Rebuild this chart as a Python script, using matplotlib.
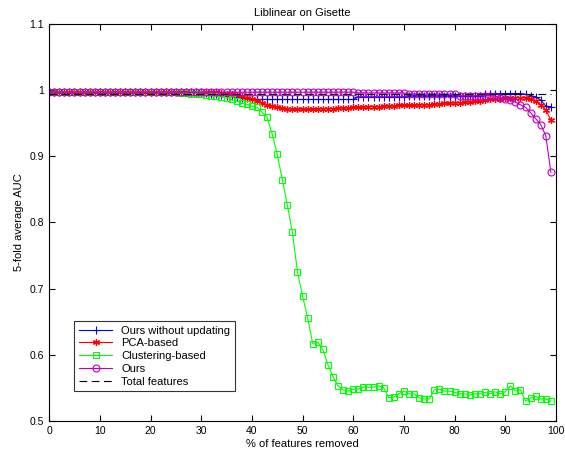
import matplotlib
matplotlib.use('Agg')
import matplotlib.pyplot as plt

plt.rcParams['font.family'] = ['Liberation Sans', 'DejaVu Sans']

removed = list(range(100))

# Ours without updating
no_update = [0.997, 0.997, 0.997, 0.997, 0.997, 0.997, 0.997, 0.997, 0.997, 0.997,
             0.997, 0.997, 0.997, 0.997, 0.997, 0.997, 0.997, 0.997, 0.997, 0.997,
             0.997, 0.997, 0.997, 0.997, 0.997, 0.997, 0.997, 0.997, 0.997, 0.997,
             0.997, 0.996, 0.995, 0.994, 0.993, 0.992, 0.991, 0.990, 0.989, 0.988,
             0.987, 0.986, 0.986, 0.986, 0.986, 0.986, 0.986, 0.986, 0.986, 0.986,
             0.986, 0.986, 0.986, 0.986, 0.986, 0.986, 0.986, 0.986, 0.986, 0.986,
             0.986, 0.990, 0.990, 0.990, 0.990, 0.990, 0.990, 0.990, 0.990, 0.990,
             0.990, 0.992, 0.992, 0.992, 0.992, 0.992, 0.992, 0.992, 0.992, 0.992,
             0.992, 0.992, 0.992, 0.992, 0.992, 0.992, 0.995, 0.995, 0.995, 0.995,
             0.995, 0.995, 0.995, 0.995, 0.994, 0.992, 0.990, 0.985, 0.976, 0.975]

pca = [0.997, 0.997, 0.997, 0.997, 0.997, 0.997, 0.997, 0.997, 0.997, 0.997,
       0.997, 0.997, 0.997, 0.997, 0.997, 0.997, 0.997, 0.997, 0.997, 0.997,
       0.997, 0.997, 0.997, 0.997, 0.997, 0.997, 0.997, 0.997, 0.997, 0.997,
       0.997, 0.997, 0.997, 0.997, 0.996, 0.995, 0.994, 0.993, 0.991, 0.989,
       0.987, 0.984, 0.981, 0.978, 0.976, 0.974, 0.973, 0.972, 0.971, 0.971,
       0.971, 0.971, 0.971, 0.971, 0.972, 0.972, 0.972, 0.973, 0.973, 0.973,
       0.974, 0.974, 0.974, 0.975, 0.975, 0.975, 0.976, 0.976, 0.976, 0.977,
       0.977, 0.977, 0.977, 0.978, 0.978, 0.978, 0.979, 0.979, 0.980, 0.980,
       0.981, 0.981, 0.982, 0.982, 0.983, 0.983, 0.985, 0.986, 0.987, 0.987,
       0.988, 0.988, 0.989, 0.989, 0.988, 0.986, 0.983, 0.978, 0.970, 0.955]

clustering = [0.997, 0.997, 0.997, 0.997, 0.997, 0.997, 0.997, 0.997, 0.997, 0.997,
              0.997, 0.997, 0.997, 0.997, 0.997, 0.997, 0.997, 0.997, 0.997, 0.997,
              0.997, 0.997, 0.997, 0.997, 0.997, 0.997, 0.996, 0.996, 0.995, 0.995,
              0.994, 0.993, 0.992, 0.991, 0.990, 0.988, 0.986, 0.984, 0.980, 0.979,
              0.976, 0.974, 0.967, 0.959, 0.934, 0.903, 0.865, 0.826, 0.785, 0.725,
              0.689, 0.656, 0.617, 0.619, 0.608, 0.585, 0.567, 0.553, 0.547, 0.545,
              0.548, 0.548, 0.551, 0.551, 0.551, 0.553, 0.550, 0.535, 0.536, 0.541,
              0.545, 0.541, 0.541, 0.535, 0.533, 0.533, 0.547, 0.548, 0.545, 0.545,
              0.543, 0.541, 0.541, 0.539, 0.541, 0.541, 0.543, 0.541, 0.544, 0.541,
              0.544, 0.553, 0.545, 0.547, 0.530, 0.535, 0.537, 0.533, 0.533, 0.530]

ours = [0.997, 0.997, 0.997, 0.997, 0.997, 0.997, 0.997, 0.997, 0.997, 0.997,
        0.997, 0.997, 0.997, 0.997, 0.997, 0.997, 0.997, 0.997, 0.997, 0.997,
        0.997, 0.997, 0.997, 0.997, 0.997, 0.997, 0.997, 0.997, 0.997, 0.997,
        0.997, 0.997, 0.997, 0.997, 0.997, 0.997, 0.997, 0.997, 0.997, 0.997,
        0.997, 0.997, 0.997, 0.997, 0.997, 0.997, 0.997, 0.997, 0.997, 0.997,
        0.997, 0.997, 0.997, 0.997, 0.997, 0.997, 0.997, 0.997, 0.997, 0.997,
        0.997, 0.996, 0.996, 0.996, 0.996, 0.996, 0.996, 0.996, 0.996, 0.996,
        0.996, 0.994, 0.994, 0.994, 0.994, 0.994, 0.994, 0.994, 0.994, 0.994,
        0.994, 0.992, 0.992, 0.992, 0.992, 0.992, 0.992, 0.992, 0.991, 0.989,
        0.987, 0.985, 0.982, 0.978, 0.974, 0.966, 0.957, 0.948, 0.931, 0.876]

total = [0.995] * len(removed)

fig = plt.figure(figsize=(5.65, 4.55), dpi=100)
ax = fig.add_axes([0.087, 0.075, 0.897, 0.872])

asterisk = (6, 2, 0)
ax.plot(removed, no_update, '-+', color='b', lw=0.8, ms=6, mew=0.8, label='Ours without updating')
ax.plot(removed, pca, '-', marker=asterisk, color='r', lw=0.8, ms=5, mew=0.9, label='PCA-based')
ax.plot(removed, clustering, '-s', color='#00ff00', lw=0.8, ms=5, mew=0.8, mfc='none', label='Clustering-based')
ax.plot(removed, ours, '-o', color='m', lw=0.8, ms=5, mew=0.8, mfc='none', label='Ours')
ax.plot(removed, total, '--', color='k', lw=0.8, dashes=(7, 4), label='Total features')

ax.set_xlim(0, 100)
ax.set_ylim(0.5, 1.1)
ax.set_xticks(range(0, 101, 10))
ax.set_yticks([0.5, 0.6, 0.7, 0.8, 0.9, 1.0, 1.1])
ax.set_yticklabels(['0.5', '0.6', '0.7', '0.8', '0.9', '1', '1.1'])
ax.tick_params(direction='in', labelsize=7.5, top=True, right=True, length=4)

ax.set_title('Liblinear on Gisette', fontsize=8)
ax.set_xlabel('% of features removed', fontsize=8, labelpad=2)
ax.set_ylabel('5-fold average AUC', fontsize=8, labelpad=4)

leg = ax.legend(loc='lower left', bbox_to_anchor=(0.05, 0.075), fontsize=8,
                frameon=True, fancybox=False, edgecolor='k', borderaxespad=0,
                handlelength=3, labelspacing=0.25, borderpad=0.4)
leg.get_frame().set_linewidth(0.8)

fig.savefig('out.png', dpi=100)
